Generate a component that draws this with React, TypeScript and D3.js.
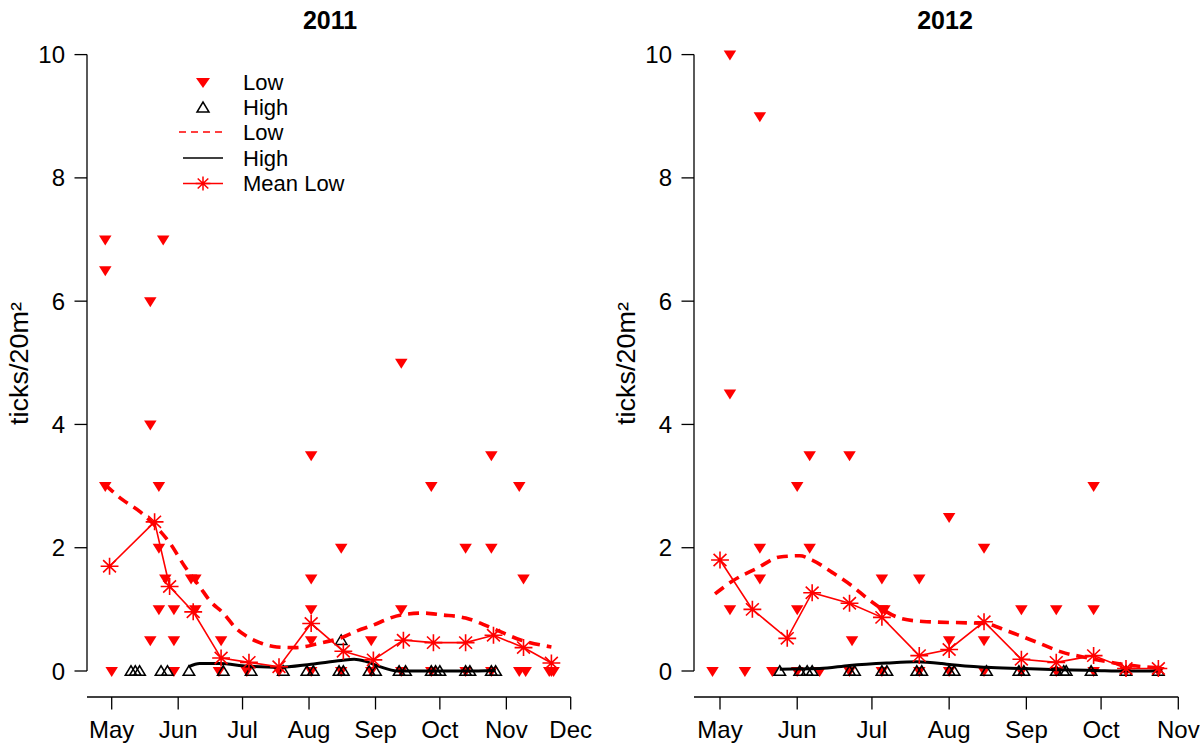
import React from 'react';
import * as d3 from 'd3';

const FONT = '"Liberation Sans", Arial, Helvetica, sans-serif';
const RED = '#ff0000';

// ---------- 2011 ----------
const low2011: [string, number][] = [
  ['04-28', 7], ['04-28', 6.5], ['04-28', 3], ['05-01', 0],
  ['05-19', 6], ['05-19', 4], ['05-19', 0.5],
  ['05-23', 3], ['05-23', 2], ['05-23', 1],
  ['05-25', 7], ['05-26', 1.5],
  ['05-30', 1], ['05-30', 0.5], ['05-30', 0],
  ['06-07', 1.5], ['06-09', 1.5], ['06-09', 1],
  ['06-20', 0], ['06-21', 0.5],
  ['07-03', 0], ['07-18', 0],
  ['08-02', 3.5], ['08-02', 1.5], ['08-02', 1], ['08-02', 0.5], ['08-02', 0],
  ['08-16', 2], ['08-16', 0],
  ['08-30', 0.5], ['08-30', 0],
  ['09-13', 5], ['09-13', 1], ['09-13', 0],
  ['09-27', 3], ['09-27', 0],
  ['10-13', 2], ['10-13', 0],
  ['10-25', 3.5], ['10-25', 2], ['10-25', 0],
  ['11-07', 3], ['11-09', 1.5], ['11-07', 0], ['11-10', 0],
  ['11-21', 0], ['11-22', 0], ['11-23', 0],
];
const high2011: [string, number][] = [
  ['05-10', 0], ['05-12', 0], ['05-14', 0], ['05-24', 0], ['05-27', 0],
  ['06-06', 0], ['06-22', 0], ['07-05', 0], ['07-20', 0],
  ['07-31', 0], ['08-03', 0], ['08-15', 0], ['08-17', 0], ['08-16', 0.5],
  ['08-29', 0], ['09-01', 0], ['09-12', 0], ['09-15', 0],
  ['09-27', 0], ['09-29', 0], ['10-01', 0], ['10-13', 0], ['10-15', 0],
  ['10-25', 0], ['10-27', 0],
];
const mean2011: [string, number][] = [
  ['04-30', 1.7], ['05-21', 2.42], ['05-28', 1.37], ['06-08', 0.96], ['06-21', 0.21],
  ['07-04', 0.14], ['07-18', 0.07], ['08-02', 0.77], ['08-17', 0.32], ['08-31', 0.18],
  ['09-14', 0.5], ['09-28', 0.46], ['10-13', 0.46], ['10-26', 0.58], ['11-09', 0.38],
  ['11-22', 0.13],
];
const lowSmooth2011: [string, number][] = [
  ['04-28', 3.02], ['05-06', 2.78], ['05-14', 2.59], ['05-20', 2.4], ['05-28', 2.08],
  ['06-04', 1.7], ['06-11', 1.37], ['06-16', 1.13], ['06-22', 0.94], ['06-28', 0.69],
  ['07-03', 0.56], ['07-09', 0.46], ['07-17', 0.39], ['07-26', 0.38], ['08-06', 0.45],
  ['08-16', 0.54], ['08-24', 0.66], ['08-29', 0.72], ['09-13', 0.91], ['09-23', 0.94],
  ['10-02', 0.91], ['10-13', 0.86], ['10-25', 0.7], ['11-08', 0.5], ['11-22', 0.39],
];
const highSmooth2011: [string, number][] = [
  ['06-06', 0.07], ['06-11', 0.12], ['06-20', 0.12], ['07-03', 0.08], ['07-18', 0.06],
  ['08-02', 0.11], ['08-16', 0.17], ['08-22', 0.19], ['08-27', 0.16], ['09-03', 0.07],
  ['09-11', 0.0], ['09-27', 0], ['10-13', 0], ['10-27', 0.01],
];

// ---------- 2012 ----------
const low2012: [string, number][] = [
  ['04-28', 0], ['05-05', 10], ['05-05', 4.5], ['05-05', 1], ['05-11', 0],
  ['05-17', 9], ['05-17', 2], ['05-17', 1.5], ['05-22', 0],
  ['06-01', 3], ['06-01', 1], ['06-01', 0], ['06-06', 3.5], ['06-06', 2], ['06-10', 0],
  ['06-22', 3.5], ['06-23', 0.5], ['06-22', 0],
  ['07-05', 1.5], ['07-05', 1], ['07-06', 1], ['07-05', 0],
  ['07-20', 1.5], ['07-20', 0],
  ['08-01', 2.5], ['08-01', 0.5], ['08-01', 0],
  ['08-15', 2], ['08-15', 0.5], ['08-15', 0],
  ['08-30', 1], ['08-30', 0],
  ['09-13', 1], ['09-13', 0],
  ['09-28', 3], ['09-28', 1], ['09-28', 0],
  ['10-11', 0], ['10-24', 0],
];
const high2012: [string, number][] = [
  ['05-25', 0], ['06-02', 0], ['06-05', 0], ['06-07', 0], ['06-22', 0], ['06-24', 0],
  ['07-05', 0], ['07-07', 0], ['07-19', 0], ['07-21', 0], ['08-01', 0], ['08-03', 0],
  ['08-16', 0], ['08-29', 0], ['08-31', 0], ['09-13', 0], ['09-16', 0], ['09-17', 0],
  ['09-27', 0], ['10-11', 0], ['10-24', 0],
];
const mean2012: [string, number][] = [
  ['05-01', 1.8], ['05-14', 1.0], ['05-28', 0.53], ['06-07', 1.27], ['06-22', 1.1],
  ['07-05', 0.87], ['07-20', 0.25], ['08-01', 0.35], ['08-15', 0.8], ['08-30', 0.19],
  ['09-13', 0.14], ['09-28', 0.25], ['10-11', 0.04], ['10-24', 0.04],
];
const lowSmooth2012: [string, number][] = [
  ['04-29', 1.25], ['05-06', 1.46], ['05-16', 1.67], ['05-25', 1.85], ['06-02', 1.87],
  ['06-07', 1.8], ['06-15', 1.6], ['06-23', 1.38], ['06-30', 1.15], ['07-13', 0.85],
  ['07-23', 0.8], ['08-09', 0.78], ['08-15', 0.77], ['08-25', 0.64], ['09-05', 0.47],
  ['09-15', 0.31], ['09-26', 0.21], ['10-11', 0.1], ['10-24', 0.05],
];
const highSmooth2012: [string, number][] = [
  ['05-25', 0.03], ['06-10', 0.04], ['06-22', 0.09], ['07-07', 0.13], ['07-19', 0.15],
  ['07-29', 0.12], ['08-02', 0.1], ['08-16', 0.06], ['08-30', 0.04], ['09-14', 0.02],
  ['09-28', 0.01], ['10-11', 0], ['10-24', 0],
];

const yTicks = [0, 2, 4, 6, 8, 10];
const yLabel = 'ticks/20m²';
const legendLabels = ['Low', 'High', 'Low', 'High', 'Mean Low'];

const panels = [
  {
    year: 2011, title: '2011',
    low: low2011, high: high2011, mean: mean2011, lowSmooth: lowSmooth2011, highSmooth: highSmooth2011,
    domain: ['05-01', '12-01'], range: [111.7, 570.7], axisX: 87, titleX: 330, ylabX: 28, legend: true,
  },
  {
    year: 2012, title: '2012',
    low: low2012, high: high2012, mean: mean2012, lowSmooth: lowSmooth2012, highSmooth: highSmooth2012,
    domain: ['05-01', '11-01'], range: [720, 1178.3], axisX: 694, titleX: 945, ylabX: 635, legend: false,
  },
];

const parse = (year: number, md: string) => {
  const [m, d] = md.split('-').map(Number);
  return new Date(year, m - 1, d);
};

const downTri = (x: number, y: number, w: number, h: number) =>
  `M${x - w / 2},${y - h / 2}L${x + w / 2},${y - h / 2}L${x},${y + h / 2}Z`;
const upTri = (x: number, y: number, w: number, h: number) =>
  `M${x - w / 2},${y + h / 2}L${x + w / 2},${y + h / 2}L${x},${y - h / 2}Z`;
const star = (x: number, y: number, r: number) => {
  const rx = r * 1.05, k = r * 0.72, kx = k * 1.05;
  return `M${x - rx},${y}H${x + rx}M${x},${y - r}V${y + r}M${x - kx},${y - k}L${x + kx},${y + k}M${x - kx},${y + k}L${x + kx},${y - k}`;
};

const T = ({ x, y, children, anchor = 'start', size = 24, weight = 'normal', rotate = 0, sx = 1 }: any) => (
  <text
    transform={`translate(${x},${y}) rotate(${rotate}) scale(${sx},1)`}
    textAnchor={anchor}
    fontFamily={FONT}
    fontSize={size}
    fontWeight={weight}
    fill="#000"
  >
    {children}
  </text>
);

const Y0 = 671, Y10 = 54.6;
const AXIS_Y = 697;

function Panel({ p }: { p: any }) {
  const x = d3.scaleTime().domain([parse(p.year, p.domain[0]), parse(p.year, p.domain[1])]).range(p.range);
  const y = d3.scaleLinear().domain([0, 10]).range([Y0, Y10]);
  const months = d3.timeMonth.range(parse(p.year, p.domain[0]), d3.timeDay.offset(parse(p.year, p.domain[1]), 1));
  const fmt = d3.timeFormat('%b');
  const smooth = d3.line<[string, number]>()
    .x((d) => x(parse(p.year, d[0])))
    .y((d) => y(d[1]))
    .curve(d3.curveMonotoneX);
  const straight = d3.line<[string, number]>()
    .x((d) => x(parse(p.year, d[0])))
    .y((d) => y(d[1]));
  const ax = p.axisX;
  return (
    <g>
      <T x={p.titleX} y={29} anchor="middle" size={25} weight="bold">{p.title}</T>
      <T x={p.ylabX} y={(30 + AXIS_Y) / 2} anchor="middle" rotate={-90} size={25} sx={1.08}>{yLabel}</T>
      {/* y axis */}
      <line x1={ax} x2={ax} y1={y(10)} y2={y(0)} stroke="#000" strokeWidth={1.3} />
      {yTicks.map((t) => (
        <g key={t}>
          <line x1={ax - 12.5} x2={ax} y1={y(t)} y2={y(t)} stroke="#000" strokeWidth={1.3} />
          <T x={ax - 22} y={y(t) + 8.5} anchor="end">{t}</T>
        </g>
      ))}
      {/* x axis */}
      <line x1={ax} x2={p.range[1]} y1={AXIS_Y} y2={AXIS_Y} stroke="#000" strokeWidth={1.3} />
      {months.map((m) => (
        <g key={+m}>
          <line x1={x(m)} x2={x(m)} y1={AXIS_Y} y2={AXIS_Y + 12.5} stroke="#000" strokeWidth={1.3} />
          <T x={x(m)} y={738} anchor="middle">{fmt(m)}</T>
        </g>
      ))}
      {/* low points */}
      {p.low.map((d: [string, number], i: number) => (
        <path key={'l' + i} d={downTri(x(parse(p.year, d[0])), y(d[1]) + 1, 12.5, 10)} fill={RED} />
      ))}
      {/* high points */}
      {p.high.map((d: [string, number], i: number) => (
        <path key={'h' + i} d={upTri(x(parse(p.year, d[0])), y(d[1]) - 0.5, 11.5, 9.5)} fill="none" stroke="#000" strokeWidth={1.5} />
      ))}
      <path d={smooth(p.lowSmooth) || ''} fill="none" stroke={RED} strokeWidth={3.6} strokeDasharray="11 7" />
      <path d={smooth(p.highSmooth) || ''} fill="none" stroke="#000" strokeWidth={3} />
      <path d={straight(p.mean) || ''} fill="none" stroke={RED} strokeWidth={1.6} />
      {p.mean.map((d: [string, number], i: number) => (
        <path key={'m' + i} d={star(x(parse(p.year, d[0])), y(d[1]), 8.5)} fill="none" stroke={RED} strokeWidth={1.6} />
      ))}
      {p.legend && <Legend />}
    </g>
  );
}

function Legend() {
  const sx = 203, tx = 243;
  const rows = [82, 107, 132, 158, 183.5];
  return (
    <g>
      <path d={downTri(sx, rows[0] + 1, 14, 10)} fill={RED} />
      <path d={upTri(sx, rows[1], 12, 10)} fill="none" stroke="#000" strokeWidth={1.5} />
      <line x1={179} x2={223} y1={rows[2]} y2={rows[2]} stroke={RED} strokeWidth={1.5} strokeDasharray="7 5" />
      <line x1={183} x2={223} y1={rows[3]} y2={rows[3]} stroke="#000" strokeWidth={1.5} />
      <line x1={183} x2={223} y1={rows[4]} y2={rows[4]} stroke={RED} strokeWidth={1.5} />
      <path d={star(sx, rows[4], 7)} fill="none" stroke={RED} strokeWidth={1.5} />
      {legendLabels.map((l, i) => (
        <T key={i} x={tx} y={rows[i] + 7.5} size={22}>{l}</T>
      ))}
    </g>
  );
}

export default function App() {
  return (
    <svg width={1200} height={745} style={{ position: 'absolute', left: 0, top: 0, background: '#fff' }}>
      <rect width={1200} height={745} fill="#fff" />
      {panels.map((p) => <Panel key={p.year} p={p} />)}
    </svg>
  );
}
